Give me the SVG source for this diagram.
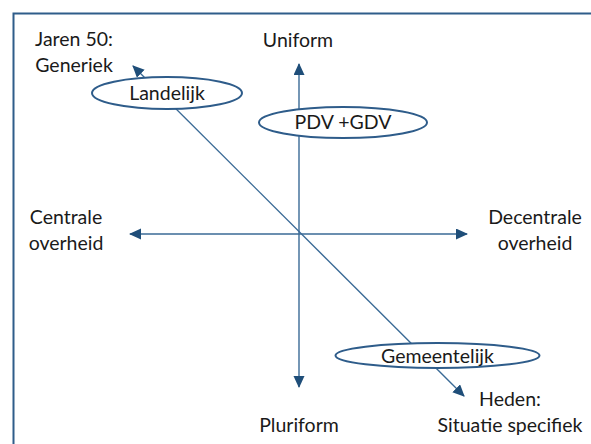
<svg xmlns="http://www.w3.org/2000/svg" width="591" height="444" viewBox="0 0 591 444">
<style>
text{font-family:Lato,"Liberation Sans",sans-serif;font-size:19.5px;fill:#1a1a1a;text-anchor:middle}
.ax{stroke:#3A6A96;stroke-width:1.4;fill:none}
.el{fill:#ffffff;stroke:#2E5C8A;stroke-width:2}
</style>
<defs>
<marker id="ah" markerUnits="userSpaceOnUse" markerWidth="13" markerHeight="12" refX="11" refY="5.5" orient="auto-start-reverse">
<path d="M0,0 L12,5.5 L0,11 z" fill="#1F4E79"/>
</marker>
</defs>
<rect x="13.5" y="13.5" width="600" height="450" fill="none" stroke="#2F5D8A" stroke-width="2"/>
<g id="connectors">
<line class="ax" x1="299" y1="64" x2="299" y2="387" marker-start="url(#ah)" marker-end="url(#ah)"/>
<line class="ax" x1="130" y1="234" x2="467" y2="234" marker-start="url(#ah)" marker-end="url(#ah)"/>
<line class="ax" x1="133" y1="66" x2="464" y2="396" marker-start="url(#ah)" marker-end="url(#ah)"/>
</g>
<g id="jaren50"><text x="74" y="46">Jaren 50:</text><text x="74" y="72">Generiek</text></g>
<g id="uniform"><text x="298" y="47">Uniform</text></g>
<g id="landelijk"><ellipse class="el" cx="167" cy="93" rx="75" ry="16"/><text x="167" y="100">Landelijk</text></g>
<g id="pdvgdv"><ellipse class="el" cx="343" cy="122.5" rx="84" ry="15.5"/><text x="343" y="129">PDV +GDV</text></g>
<g id="centrale"><text x="66" y="224">Centrale</text><text x="66" y="250">overheid</text></g>
<g id="decentrale"><text x="535" y="224">Decentrale</text><text x="535" y="250">overheid</text></g>
<g id="gemeentelijk"><ellipse class="el" cx="437.5" cy="355.5" rx="102" ry="12.5"/><text x="437.5" y="363">Gemeentelijk</text></g>
<g id="heden"><text x="510" y="406">Heden:</text><text x="510" y="432">Situatie specifiek</text></g>
<g id="pluriform"><text x="299" y="432">Pluriform</text></g>
</svg>
